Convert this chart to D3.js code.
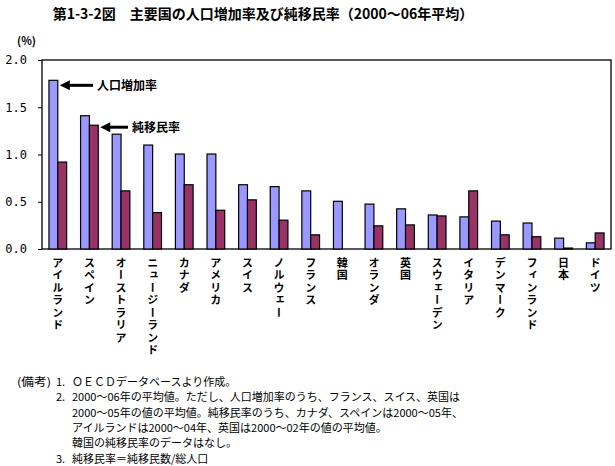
<!DOCTYPE html>
<html><head><meta charset="utf-8">
<script src="https://cdn.jsdelivr.net/npm/d3@7"></script>
<style>
body{margin:0;background:#fff;}
svg{display:block;font-family:"Noto Sans CJK JP","Noto Sans",sans-serif;}
</style></head><body>
<svg id="c" width="615" height="466"></svg>
<script>
const categories=["アイルランド","スペイン","オーストラリア","ニュージーランド","カナダ","アメリカ","スイス","ノルウェー","フランス","韓国","オランダ","英国","スウェーデン","イタリア","デンマーク","フィンランド","日本","ドイツ"];
const popGrowth=[1.785,1.41,1.215,1.10,1.005,1.005,0.68,0.66,0.615,0.505,0.475,0.425,0.36,0.34,0.295,0.275,0.115,0.065];
const netMigration=[0.92,1.31,0.615,0.385,0.68,0.41,0.52,0.305,0.15,null,0.245,0.255,0.35,0.615,0.15,0.13,0.01,0.17];
const yTicks=[0,0.5,1.0,1.5,2.0];
const seriesNames=["人口増加率","純移民率"];
const notes=[
 ["(備考)","1.","ＯＥＣＤデータベースより作成。"],
 ["","2.","2000～06年の平均値。ただし、人口増加率のうち、フランス、スイス、英国は"],
 ["","","2000～05年の値の平均値。純移民率のうち、カナダ、スペインは2000～05年、"],
 ["","","アイルランドは2000～04年、英国は2000～02年の値の平均値。"],
 ["","","韓国の純移民率のデータはなし。"],
 ["","3.","純移民率＝純移民数/総人口"]
];
const svg=d3.select("#c");
const L=42,R=611,T=60,B=249;
const x=d3.scaleBand().domain(categories).range([L,R]).paddingInner(0.44).paddingOuter(0.22);
const y=d3.scaleLinear().domain([0,2]).range([B,T]);
const bw=x.bandwidth()/2;
svg.append("text").attr("x",263).attr("y",19).attr("text-anchor","middle").attr("font-size",14).attr("font-weight","bold").text("第1-3-2図　主要国の人口増加率及び純移民率（2000～06年平均）");
svg.append("text").attr("x",17).attr("y",45).attr("font-size",11).attr("font-weight","bold").text("(%)");
// frame
svg.append("rect").attr("x",L).attr("y",T).attr("width",R-L).attr("height",B-T).attr("fill","none").attr("stroke","#000").attr("stroke-width",1.3);
const yAxis=d3.axisLeft(y).tickValues(yTicks).tickFormat(d3.format(".1f")).tickSize(4).tickPadding(11);
const ga=svg.append("g").attr("transform",`translate(${L},0)`).call(yAxis);
ga.select(".domain").remove();
ga.selectAll("text").attr("font-size",12).attr("font-family","'DejaVu Sans Mono',monospace").attr("fill","#000");
ga.selectAll("line").attr("stroke","#000");
// bars
const g=svg.append("g");
g.selectAll(".b1").data(categories).join("rect").attr("x",d=>x(d)).attr("y",(d,i)=>y(popGrowth[i])).attr("width",bw).attr("height",(d,i)=>y(0)-y(popGrowth[i])).attr("fill","#9999FF").attr("stroke","#000").attr("stroke-width",1.2);
g.selectAll(".b2").data(categories.filter((d,i)=>netMigration[i]!==null)).join("rect").attr("x",d=>x(d)+bw).attr("y",d=>y(netMigration[categories.indexOf(d)])).attr("width",bw).attr("height",d=>y(0)-y(netMigration[categories.indexOf(d)])).attr("fill","#993366").attr("stroke","#000").attr("stroke-width",1.2);
// category labels vertical
svg.append("g").selectAll("text").data(categories).join("text")
 .attr("x",d=>x(d)+x.bandwidth()/2).attr("y",257)
 .attr("font-size",11).attr("font-weight","bold")
 .style("writing-mode","vertical-rl").style("letter-spacing","1.5px")
 .text(d=>d);
// arrows
const ann=[{i:0,s:0,x2:93,lx:97,dy:5},{i:1,s:1,x2:128,lx:132,dy:2}];
ann.forEach(a=>{
 const v=a.s===0?popGrowth[a.i]:netMigration[a.i];
 const xe=x(categories[a.i])+bw*(a.s+1)+2;
 const yy=y(v)+a.dy;
 svg.append("line").attr("x1",a.x2).attr("y1",yy).attr("x2",xe+8).attr("y2",yy).attr("stroke","#000").attr("stroke-width",3);
 svg.append("path").attr("d",`M${xe},${yy} L${xe+10},${yy-5} L${xe+10},${yy+5} Z`).attr("fill","#000");
 svg.append("text").attr("x",a.lx).attr("y",yy+4.5).attr("font-size",12).attr("font-weight","bold").text(seriesNames[a.s]);
});
// notes
const ng=svg.append("g").attr("font-size",11).attr("fill","#000");
notes.forEach((n,i)=>{
 const yy=386+i*15.3;
 if(n[0]) ng.append("text").attr("x",17).attr("y",yy).attr("textLength",34).attr("lengthAdjust","spacingAndGlyphs").text(n[0]);
 if(n[1]) ng.append("text").attr("x",56).attr("y",yy).text(n[1]);
 ng.append("text").attr("x",72).attr("y",yy).text(n[2]);
});
</script></body></html>
